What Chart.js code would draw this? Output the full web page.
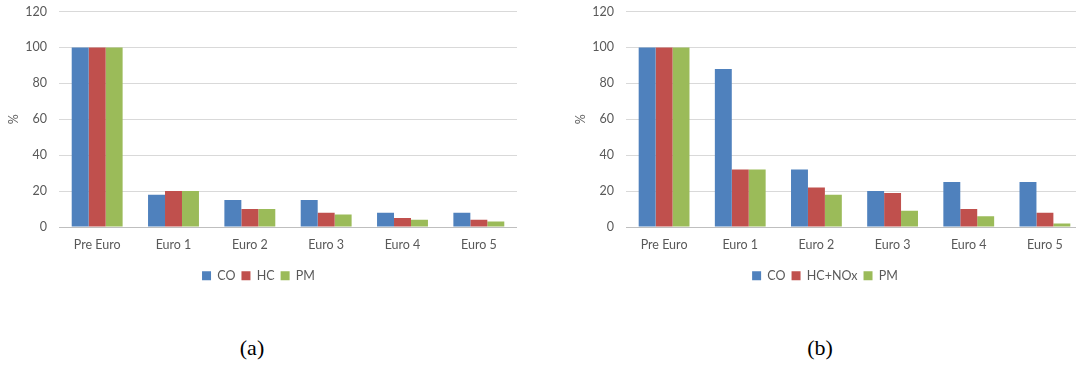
<!DOCTYPE html>
<html>
<head>
<meta charset="utf-8">
<script src="https://cdn.jsdelivr.net/npm/chart.js@4/dist/chart.umd.min.js"></script>
<style>
  html, body { margin: 0; padding: 0; background: #fff; }
  body { width: 1076px; height: 365px; position: relative; overflow: hidden; }
  .box { position: absolute; top: 0; }
  .cap { position: absolute; top: 335px; font: 22px "Liberation Serif", serif; color: #000; transform: translateX(-50%); }
</style>
</head>
<body>
<div class="box" id="boxA" style="left:0;width:530px;height:292px;"><canvas id="chartA"></canvas></div>
<div class="box" id="boxB" style="left:567px;width:529px;height:292px;"><canvas id="chartB"></canvas></div>
<div class="cap" style="left:252px;">(a)</div>
<div class="cap" style="left:820px;">(b)</div>
<script>
// emission limits relative to pre-Euro levels, in %
const stages = ['Pre Euro', 'Euro 1', 'Euro 2', 'Euro 3', 'Euro 4', 'Euro 5'];

const petrolCO = [100, 18, 15, 15, 8, 8];
const petrolHC = [100, 20, 10, 8, 5, 4];
const petrolPM = [100, 20, 10, 7, 4, 3];

const dieselCO    = [100, 88, 32, 20, 25, 25];
const dieselHCNOx = [100, 32, 22, 19, 10, 8];
const dieselPM    = [100, 32, 18, 9, 6, 2];

const yTicks = [0, 20, 40, 60, 80, 100, 120];

const BLUE = '#4f81bd', RED = '#c0504d', GREEN = '#9bbb59';
const TXT = '#595959';
const FONT = { family: 'Lato, "Open Sans", sans-serif', size: 12.5 };

const ds = (label, data, color) => ({
  label, data, backgroundColor: color, borderWidth: 0,
  categoryPercentage: 0.667, barPercentage: 1
});

const makeChart = (id, sets) => new Chart(document.getElementById(id), {
  type: 'bar',
  data: { labels: stages, datasets: sets },
  options: {
    responsive: true, maintainAspectRatio: false, animation: false,
    layout: { padding: { top: 11.5, right: 13, left: 0, bottom: 0 } },
    plugins: {
      tooltip: { enabled: false },
      legend: {
        position: 'bottom',
        labels: { boxWidth: 9, boxHeight: 9, padding: 6, color: TXT, font: FONT }
      }
    },
    scales: {
      x: {
        grid: { display: false, drawTicks: false },
        border: { display: false },
        ticks: { color: TXT, font: FONT, padding: 10 },
        afterFit: s => { s.height = 36.5; }
      },
      y: {
        min: 0, max: 120,
        afterBuildTicks: s => { s.ticks = yTicks.map(v => ({ value: v })); },
        grid: {
          drawTicks: false, lineWidth: 1,
          color: c => c.tick && c.tick.value === 0 ? '#bfbfbf' : '#d9d9d9'
        },
        border: { display: false },
        ticks: { color: TXT, font: FONT, padding: 12 },
        title: { display: true, text: '%', color: TXT, font: FONT, padding: { top: 6, bottom: 0 } },
        // fixed axis width; tick padding should not push the plot down
        afterFit: s => { s.width = 59; s.paddingTop = 0; s.paddingBottom = 0; }
      }
    }
  }
});

makeChart('chartA', [
  ds('CO', petrolCO, BLUE),
  ds('HC', petrolHC, RED),
  ds('PM', petrolPM, GREEN)
]);

makeChart('chartB', [
  ds('CO', dieselCO, BLUE),
  ds('HC+NOx', dieselHCNOx, RED),
  ds('PM', dieselPM, GREEN)
]);
</script>
</body>
</html>
